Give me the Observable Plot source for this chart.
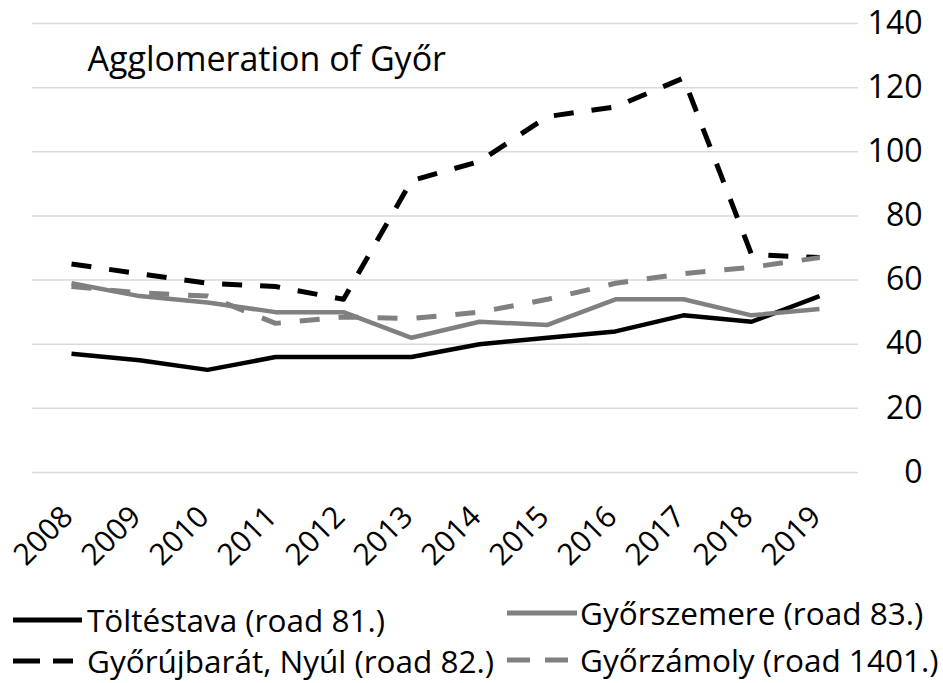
<!DOCTYPE html>
<html>
<head>
<meta charset="utf-8">
<script src="https://cdn.jsdelivr.net/npm/d3@7"></script>
<script src="https://cdn.jsdelivr.net/npm/@observablehq/plot@0.6"></script>
<style>
  html, body { margin: 0; padding: 0; background: #fff; }
  #wrap { width: 943px; font-family: "Open Sans", sans-serif; color: #000; }
  #legend { position: relative; width: 943px; height: 93px; }
  .item { position: absolute; height: 30px; line-height: 30px; display: flex; align-items: center; font-size: 31.5px; white-space: nowrap; }
  .item svg { display: block; }
</style>
</head>
<body>
<div id="wrap">
  <div id="chart"></div>
  <div id="legend"></div>
</div>
<script>
const years = ["2008","2009","2010","2011","2012","2013","2014","2015","2016","2017","2018","2019"];
const yTicks = [0, 20, 40, 60, 80, 100, 120, 140];
const title = "Agglomeration of Győr";

const seriesNames = [
  "Töltéstava (road 81.)",
  "Győrszemere (road 83.)",
  "Győrújbarát, Nyúl (road 82.)",
  "Győrzámoly (road 1401.)"
];
const toltestava  = [37, 35, 32, 36, 36, 36, 40, 42, 44, 49, 47, 55];
const gyorszemere = [59, 55, 53, 50, 50, 42, 47, 46, 54, 54, 49, 51];
const gyorujbarat = [65, 62, 59, 58, 54, 91, 97, 111, 114, 123, 68, 67];
const gyorzamoly  = [58, 56, 55, 46.5, 48.5, 48, 50, 54, 59, 62, 64, 67];

const seriesValues = [toltestava, gyorszemere, gyorujbarat, gyorzamoly];
const seriesStyle = [
  {stroke: "#000000", strokeWidth: 4.5, dash: null},
  {stroke: "#808080", strokeWidth: 4.5, dash: null},
  {stroke: "#000000", strokeWidth: 5, dash: "20 18"},
  {stroke: "#808080", strokeWidth: 5, dash: "20 19"}
];

const tables = seriesValues.map((vals, i) => years.map((yr, j) => ({year: yr, value: vals[j], series: seriesNames[i]})));

const lineMarks = tables.map((t, i) => Plot.lineY(t, {
  x: "year", y: "value",
  stroke: seriesStyle[i].stroke,
  strokeWidth: seriesStyle[i].strokeWidth,
  strokeDasharray: seriesStyle[i].dash || undefined,
  strokeLinejoin: "round",
  strokeLinecap: "butt"
}));

const chart = Plot.plot({
  width: 943,
  height: 590,
  marginLeft: 32,
  marginRight: 85,
  marginTop: 23,
  marginBottom: 118,
  style: {fontFamily: "Open Sans, sans-serif", color: "#000", background: "#fff", overflow: "visible"},
  x: {type: "point", domain: years, padding: 0.5, axis: null},
  y: {domain: [0, 140], axis: null},
  marks: [
    Plot.gridY(yTicks, {stroke: "#d9d9d9", strokeOpacity: 1, strokeWidth: 1.5}),
    Plot.axisY(yTicks, {anchor: "right", label: null, tickSize: 0, tickPadding: 64, textAnchor: "end", fontSize: 32, fill: "#000"}),
    Plot.text(years, {x: d => d, text: d => d, frameAnchor: "bottom", dy: 31, dx: -12, rotate: -45, textAnchor: "end", lineAnchor: "top", fontSize: 30, fill: "#000"}),
    ...lineMarks,
    Plot.text([title], {text: d => d, frameAnchor: "top-left", dx: 55, dy: 47, lineAnchor: "bottom", textAnchor: "start", fontSize: 34, fill: "#000"})
  ]
});
document.getElementById("chart").appendChild(chart);

// Legend (HTML below the SVG)
const legendPos = [
  {left: 13, top: 30 - 15, sw: 69, textGap: 5},
  {left: 507, top: 23 - 15, sw: 70, textGap: 3},
  {left: 13, top: 71 - 15, sw: 60, textGap: 14},
  {left: 507, top: 70 - 15, sw: 61, textGap: 12}
];
const legendDash = [null, null, "27 13", "23 15"];
const legend = document.getElementById("legend");
seriesNames.forEach((name, i) => {
  const p = legendPos[i];
  const div = document.createElement("div");
  div.className = "item";
  div.style.left = p.left + "px";
  div.style.top = p.top + "px";
  const ns = "http://www.w3.org/2000/svg";
  const svg = document.createElementNS(ns, "svg");
  svg.setAttribute("width", p.sw);
  svg.setAttribute("height", 10);
  const ln = document.createElementNS(ns, "line");
  ln.setAttribute("x1", 0); ln.setAttribute("x2", p.sw);
  ln.setAttribute("y1", 5); ln.setAttribute("y2", 5);
  ln.setAttribute("stroke", seriesStyle[i].stroke);
  ln.setAttribute("stroke-width", 5);
  if (legendDash[i]) ln.setAttribute("stroke-dasharray", legendDash[i]);
  svg.appendChild(ln);
  div.appendChild(svg);
  const span = document.createElement("span");
  span.textContent = name;
  span.style.marginLeft = p.textGap + "px";
  div.appendChild(span);
  legend.appendChild(div);
});
</script>
</body>
</html>
